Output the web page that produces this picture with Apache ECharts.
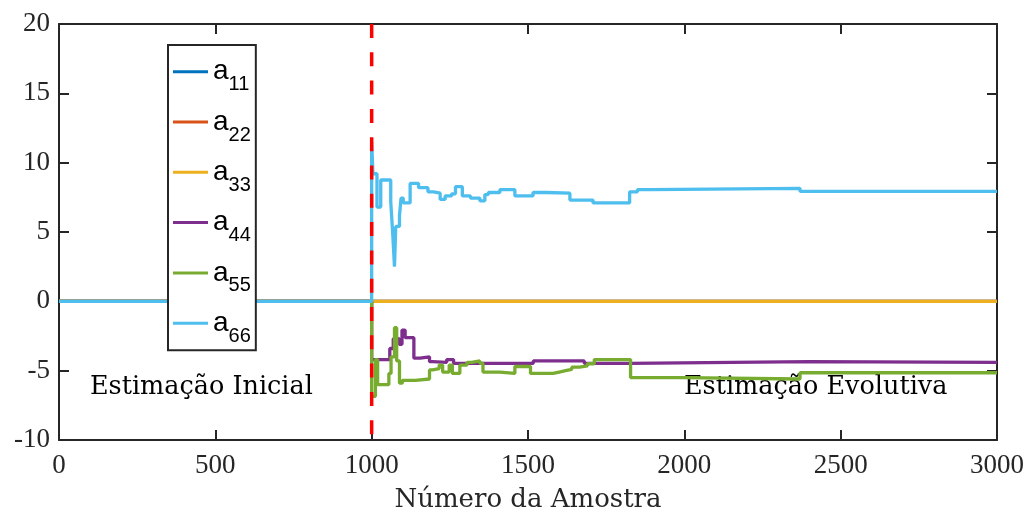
<!DOCTYPE html>
<html>
<head>
<meta charset="utf-8">
<script src="https://cdn.jsdelivr.net/npm/echarts@6/dist/echarts.min.js"></script>
<style>
  html, body { margin: 0; padding: 0; background: #fff; }
  #chart { width: 1031px; height: 516px; }
</style>
</head>
<body>
<div id="chart"></div>
<script>
  // pontos de mudança [amostra, valor] de cada estimativa (degrau)
  const a11 = [[0, 0], [3000, 0]]
  const a22 = [[0, 0], [3000, 0]]
  const a33 = [[0, 0], [3000, 0]]
  const a44 = [[0, 0], [1000, -4.2], [1058, -3.4], [1069, -2.7], [1088, -3.1], [1097, -2.07], [1107, -2.62],
    [1135, -4.1], [1155, -4.0], [1185, -4.35], [1195, -4.4], [1240, -4.2], [1262, -4.47], [1517, -4.3],
    [1680, -4.47], [1826, -4.35], [2400, -4.4], [3000, -4.4]]
  const a55 = [[0, 0], [1000, -6.85], [1012, -4.2], [1019, -6.0], [1055, -5.2], [1062, -4.0], [1073, -1.9],
    [1080, -4.3], [1089, -5.9], [1098, -5.7], [1140, -5.6], [1185, -4.95], [1195, -4.85], [1216, -4.6],
    [1227, -5.1], [1248, -4.6], [1258, -5.2], [1282, -4.6], [1305, -4.4], [1320, -4.3], [1346, -4.47],
    [1356, -5.1], [1410, -5.2], [1458, -4.7], [1508, -5.2], [1580, -5.1], [1600, -5.0], [1620, -4.9],
    [1640, -4.75], [1665, -4.65], [1690, -4.5], [1712, -4.2], [1828, -5.5], [1995, -5.6], [2370, -5.15],
    [3000, -5.15]]
  const a66 = [[0, 0], [1000, 11.5], [1004, 9.2], [1017, 6.8], [1029, 8.75], [1061, 7.2], [1067, 5.0],
    [1073, 2.5], [1077, 5.4], [1089, 6.2], [1094, 7.45], [1101, 7.1], [1123, 8.5], [1150, 8.2], [1180, 7.9],
    [1198, 7.8], [1219, 7.35], [1235, 7.6], [1256, 7.75], [1268, 8.27], [1290, 7.6], [1316, 7.45],
    [1346, 7.25], [1362, 7.7], [1373, 7.85], [1410, 8.05], [1458, 7.6], [1516, 7.85], [1559, 7.8],
    [1634, 7.3], [1708, 7.1], [1825, 7.9], [1850, 8.05], [1890, 8.15], [2370, 7.93], [3000, 7.93]]
  const divisa = [[1000, 20], [1000, -10]] // inicio da estimacao evolutiva

  const seriesNames = ['a11', 'a22', 'a33', 'a44', 'a55', 'a66']
  const seriesData = [a11, a22, a33, a44, a55, a66]
  const colors = ['#0072BD', '#D95319', '#EDB120', '#7E2F8E', '#77AC30', '#4DBEEE']

  const serif = '"Liberation Serif", "DejaVu Serif", serif'
  const serifWide = '"DejaVu Serif", "Liberation Serif", serif'
  const sans = '"Liberation Sans", Arial, sans-serif'
  const axisColor = '#262626'

  const chart = echarts.init(document.getElementById('chart'), null, { renderer: 'canvas' })

  const axisCommon = {
    type: 'value',
    axisLine: { show: true, onZero: false, lineStyle: { color: axisColor, width: 2 } },
    axisTick: { show: true, inside: true, length: 10, lineStyle: { color: axisColor, width: 2 } },
    splitLine: { show: false }
  }

  const series = seriesNames.map((name, i) => ({
    name: name,
    type: 'line',
    step: 'end',
    data: seriesData[i],
    symbol: 'none',
    color: colors[i],
    lineStyle: { width: 3.3, color: colors[i] }
  }))
  series.push({
    name: 'divisa',
    type: 'line',
    data: divisa,
    symbol: 'none',
    color: '#FF0000',
    lineStyle: { width: 3.5, color: '#FF0000', type: [14, 14.3] }
  })

  chart.setOption({
    animation: false,
    backgroundColor: '#fff',
    grid: { left: 59, right: 34, top: 24, bottom: 76, outerBoundsMode: 'none' },
    xAxis: [{
      ...axisCommon,
      position: 'bottom',
      min: 0, max: 3000, interval: 500,
      name: 'Número da Amostra',
      nameLocation: 'middle',
      nameGap: 47,
      nameTextStyle: { fontFamily: serifWide, fontSize: 26, color: axisColor },
      axisLabel: { margin: 12, fontFamily: serif, fontSize: 27, color: axisColor, formatter: v => String(v) }
    }, {
      ...axisCommon,
      position: 'top',
      min: 0, max: 3000, interval: 500,
      axisLabel: { show: false }
    }],
    yAxis: [{
      ...axisCommon,
      position: 'left',
      min: -10, max: 20, interval: 5,
      axisLabel: { margin: 9, fontFamily: serif, fontSize: 27, color: axisColor, formatter: v => String(v) }
    }, {
      ...axisCommon,
      position: 'right',
      min: -10, max: 20, interval: 5,
      axisLabel: { show: false }
    }],
    legend: {
      data: seriesNames,
      orient: 'vertical',
      left: 168,
      top: 45,
      padding: [12.7, 5, 4, 5],
      itemGap: 13.3,
      itemWidth: 35,
      itemHeight: 3,
      icon: 'rect',
      backgroundColor: '#fff',
      borderColor: axisColor,
      borderWidth: 2,
      borderRadius: 0,
      formatter: name => '{a|a}{s|' + name.slice(1) + '}',
      textStyle: {
        color: '#000',
        fontFamily: sans,
        rich: {
          a: { fontSize: 28, lineHeight: 46, verticalAlign: 'middle', color: '#000', fontFamily: sans },
          s: { fontSize: 20, lineHeight: 20, verticalAlign: 'bottom', color: '#000', fontFamily: sans }
        }
      }
    },
    graphic: [{
      type: 'text',
      left: 90,
      top: 374,
      style: { text: 'Estimação Inicial', font: '25.5px ' + serifWide, fill: '#000' }
    }, {
      type: 'text',
      left: 684,
      top: 374,
      style: { text: 'Estimação Evolutiva', font: '25.5px ' + serifWide, fill: '#000' }
    }],
    series: series
  })
</script>
</body>
</html>
